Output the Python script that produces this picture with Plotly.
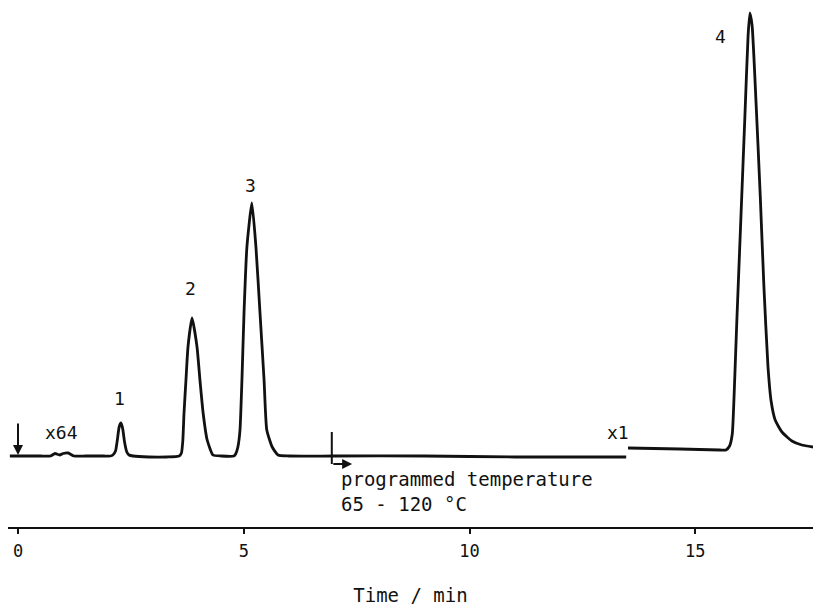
import plotly.graph_objects as go

# ---- data (time in min, detector signal in arbitrary units) ----
# attenuation x64 segment
seg64_time = [-0.18, 0.5, 0.72, 0.82, 0.92, 1.0, 1.11, 1.24, 1.5, 1.9, 2.05, 2.10, 2.16, 2.20, 2.24, 2.28,
              2.32, 2.36, 2.41, 2.46, 2.55, 2.9, 3.3, 3.57, 3.62, 3.65, 3.677, 3.72, 3.765, 3.854,
              3.965, 4.03, 4.10, 4.19, 4.32, 4.5, 4.78, 4.82, 4.87, 4.917, 4.96, 5.006, 5.07, 5.18,
              5.27, 5.36, 5.45, 5.51, 5.63, 5.76, 6.0, 7.0, 9.0, 11.0, 13.47]
seg64_signal = [0, 0, 0, 2.5, 1, 2.5, 3, 0, 0, 0, 0, 1, 5, 16, 29, 33,
                27, 14, 4, 1, 0, -1, -1, 0, 3, 15, 43, 76, 109, 138,
                109, 76, 43, 16, 1, 0, 0, 2, 9, 26, 76, 143, 209, 253,
                209, 143, 76, 26, 9, 1, 0, 0, 0, -1, -1]

# attenuation x1 segment
seg1_time = [13.51, 14.66, 15.55, 15.68, 15.76, 15.82, 15.86, 15.92, 16.01, 16.10, 16.17, 16.21,
             16.26, 16.35, 16.44, 16.52, 16.61, 16.68, 16.77, 16.92, 17.14, 17.36, 17.61]
seg1_signal = [8, 7, 6, 6, 10, 22, 60, 134, 237, 340, 420, 443,
               430, 350, 260, 170, 90, 55, 36, 24, 15, 11, 9]

peak_labels = ["1", "2", "3", "4"]
peak_time = [2.28, 3.854, 5.18, 16.21]
peak_signal = [33, 138, 253, 443]
label_dx = [-1, -2, -1, -29]
label_dy = [25, 30, 18, -23]

x_ticks = [0, 5, 10, 15]
prog_start = 6.95
prog_text = "programmed temperature<br>65 - 120 °C"

FONT = "DejaVu Sans Mono"
INK = "#111111"

fig = go.Figure()
fig.add_trace(go.Scatter(x=seg64_time, y=seg64_signal, mode="lines",
                         line=dict(color=INK, width=2.8, shape="spline", smoothing=0.5),
                         hoverinfo="skip"))
fig.add_trace(go.Scatter(x=seg1_time, y=seg1_signal, mode="lines",
                         line=dict(color=INK, width=2.8, shape="spline", smoothing=0.5),
                         hoverinfo="skip"))

annotations = []
for lab, t, s, dx, dy in zip(peak_labels, peak_time, peak_signal, label_dx, label_dy):
    annotations.append(dict(x=t, y=s, text=lab, showarrow=False, xshift=dx, yshift=dy,
                            font=dict(family=FONT, size=18, color=INK)))

annotations += [
    dict(x=0.97, y=24, text="x64", showarrow=False, font=dict(family=FONT, size=18, color=INK)),
    dict(x=13.29, y=24, text="x1", showarrow=False, font=dict(family=FONT, size=18, color=INK)),
    # injection arrow
    dict(x=0, y=1, ax=0, ay=-33, text="", showarrow=True, arrowhead=2, arrowsize=1,
         arrowwidth=2, arrowcolor=INK),
    # programmed temperature start arrow
    dict(x=prog_start + 0.45, y=-8, ax=prog_start, ay=-8, axref="x", ayref="y", text="",
         showarrow=True, arrowhead=2, arrowsize=1, arrowwidth=2, arrowcolor=INK),
    dict(x=prog_start + 0.16, y=-10, text=prog_text, showarrow=False, xanchor="left",
         yanchor="top", align="left", font=dict(family=FONT, size=19, color=INK)),
]

shapes = [dict(type="line", x0=prog_start, x1=prog_start, y0=24, y1=-8,
               line=dict(color=INK, width=2))]

fig.update_layout(
    width=813, height=607,
    margin=dict(l=8, r=0, t=0, b=80),
    paper_bgcolor="white", plot_bgcolor="white",
    showlegend=False,
    annotations=annotations,
    shapes=shapes,
    xaxis=dict(range=[-0.2215, 17.608], showgrid=False, zeroline=False,
               showline=True, linecolor=INK, linewidth=2,
               ticks="outside", ticklen=5, tickwidth=2, tickcolor=INK,
               tickvals=x_ticks, ticktext=[str(v) for v in x_ticks],
               tickfont=dict(family=FONT, size=17, color=INK),
               ticklabelstandoff=3,
               title=dict(text="Time / min", font=dict(family=FONT, size=19, color=INK),
                          standoff=28)),
    yaxis=dict(range=[-71, 456], visible=False, showgrid=False, zeroline=False),
)

fig.write_html("out.html", config={"displayModeBar": False},
               post_script="document.body.style.margin='0px';document.body.style.overflow='hidden';")
